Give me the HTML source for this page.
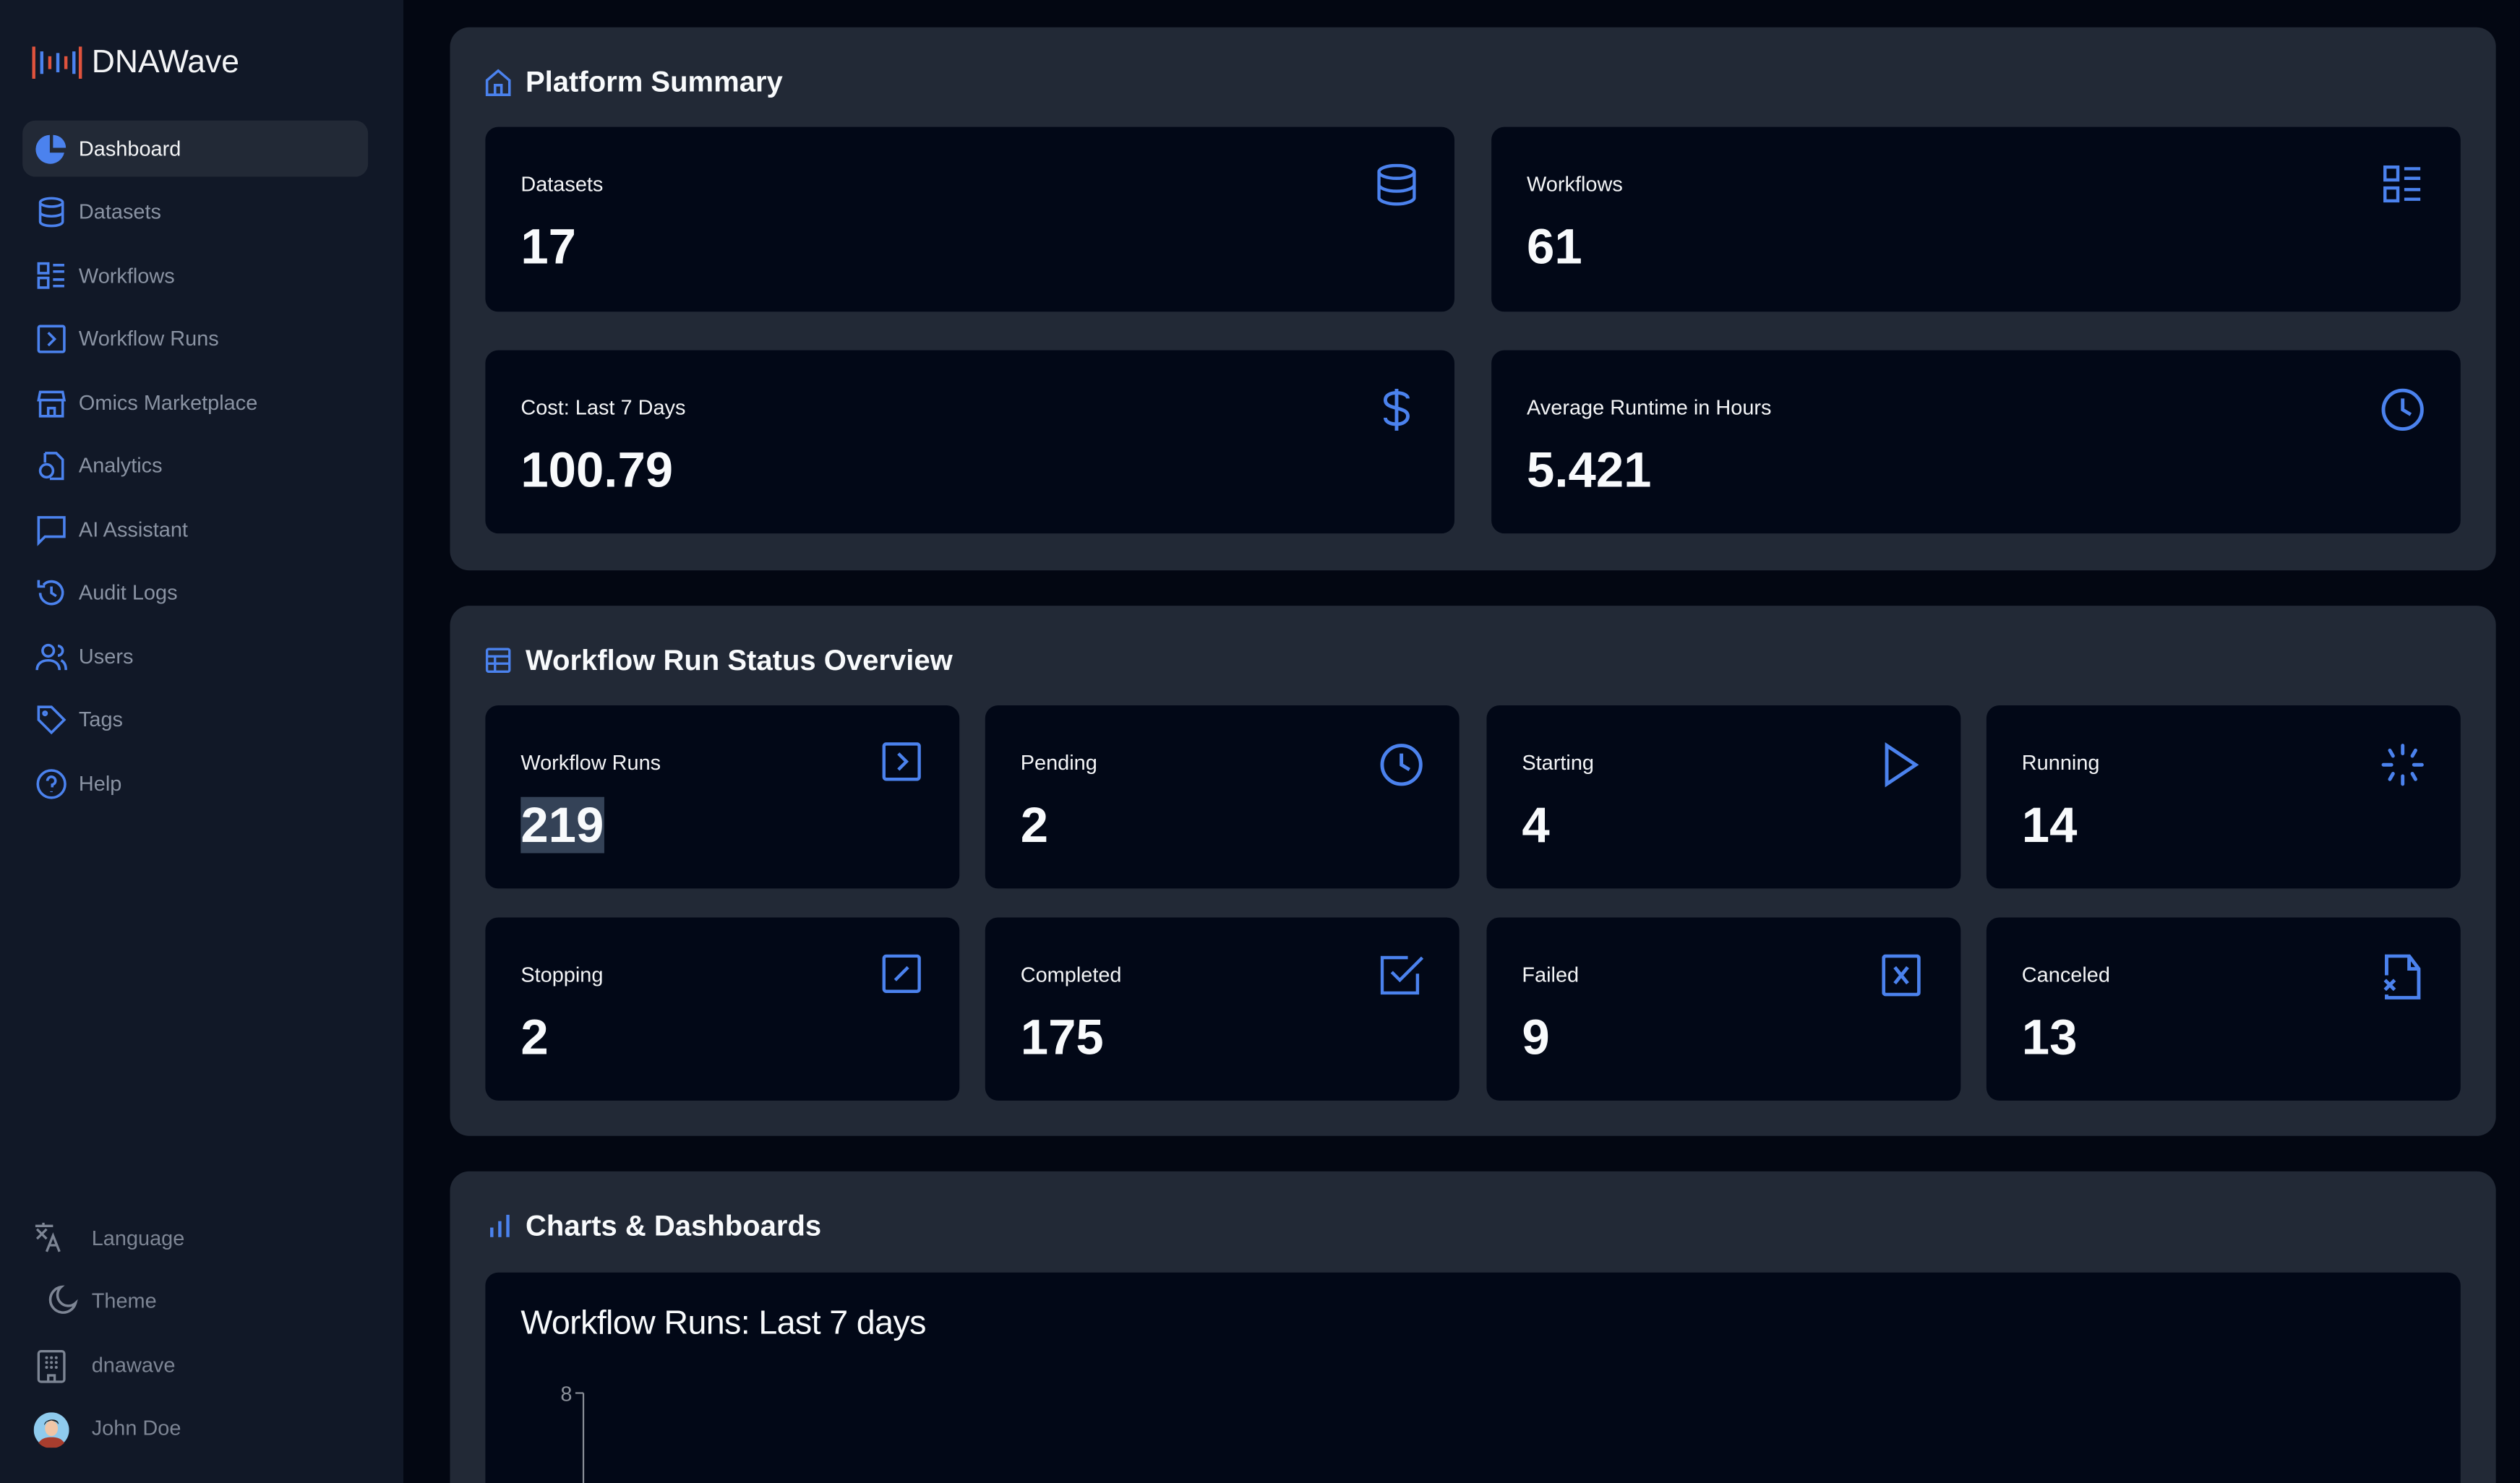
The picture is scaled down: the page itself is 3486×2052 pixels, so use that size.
<!DOCTYPE html>
<html><head><meta charset="utf-8">
<style>
html,body{margin:0;padding:0;width:3486px;height:2052px;overflow:hidden;background:#030712;}
#root{position:absolute;left:0;top:0;width:1568px;height:923px;transform:scale(2.22321);transform-origin:0 0;font-family:"Liberation Sans",sans-serif;overflow:hidden;background:#030712;}
.abs{position:absolute;}
#side{left:0;top:0;width:251px;height:923px;background:#111827;}
.nav{position:absolute;left:14px;width:215px;height:35px;border-radius:8px;}
.nav svg{position:absolute;left:8px;top:8px;}
.nav span{position:absolute;left:35px;top:10px;font-size:13px;color:#8a93a3;}
.nav.act{background:#222936;}
.nav.act span{color:#f3f4f6;}
.bot{position:absolute;left:20px;width:200px;height:30px;}
.bot span{position:absolute;left:37px;top:7px;font-size:13px;color:#7d8594;}
.sec{position:absolute;left:280px;width:1273px;background:#222936;border-radius:12px;}
.stitle{position:absolute;left:47px;font-size:18px;font-weight:bold;color:#f8fafc;}
.card{position:absolute;background:#020817;border-radius:8px;}
.card .lb{position:absolute;left:22px;top:28px;font-size:13px;color:#f3f4f6;}
.card .vl{position:absolute;left:22px;top:57px;font-size:31px;font-weight:bold;color:#f8fafc;}
.card svg{position:absolute;top:23px;}
</style></head><body>
<div id="root">
<div id="side" class="abs">
  <div class="abs" style="left:20px;top:28px">
    <svg width="32" height="22" viewBox="0 0 32 22"><rect x="0" y="1" width="2" height="20" fill="#e0533d"/><rect x="5" y="4" width="2" height="14" fill="#4b82ee"/><rect x="10" y="7" width="2" height="8" fill="#e0533d"/><rect x="15" y="5" width="2" height="12" fill="#4b82ee"/><rect x="20" y="7" width="2" height="8" fill="#e0533d"/><rect x="25" y="4" width="2" height="14" fill="#4b82ee"/><rect x="29" y="1" width="2" height="20" fill="#e0533d"/></svg>
    <span class="abs" style="left:37px;top:0px;font-size:20px;color:#f3f4f6;white-space:nowrap">DNAWave</span>
  </div>
  <div class="nav act" style="top:75px"><svg width="20" height="20" viewBox="0 0 20 20"><path d="M9 1 A9 9 0 1 0 18 12 L9 12 Z" fill="#4b82ee"/><path d="M11 1 A8 8 0 0 1 19 9 L11 9 Z" fill="#4b82ee"/></svg><span>Dashboard</span></div>
  <div class="nav" style="top:114px"><svg width="20" height="20" viewBox="0 0 20 20" fill="none" stroke="#4b82ee" stroke-width="1.6"><ellipse cx="10" cy="4" rx="7" ry="2.6"/><path d="M3 4v12c0 1.5 3 2.6 7 2.6s7-1.1 7-2.6V4M3 10c0 1.5 3 2.6 7 2.6s7-1.1 7-2.6"/></svg><span>Datasets</span></div>
  <div class="nav" style="top:154px"><svg width="20" height="20" viewBox="0 0 20 20" fill="none" stroke="#4b82ee" stroke-width="1.6"><rect x="2" y="2" width="6" height="6"/><rect x="2" y="11" width="6" height="6"/><path d="M11 3h7M11 7h7M11 12h7M11 16h7"/></svg><span>Workflows</span></div>
  <div class="nav" style="top:193px"><svg width="20" height="20" viewBox="0 0 20 20" fill="none" stroke="#4b82ee" stroke-width="1.6"><rect x="2" y="2" width="16" height="16" rx="1"/><path d="M8 6l4 4-4 4"/></svg><span>Workflow Runs</span></div>
  <div class="nav" style="top:233px"><svg width="20" height="20" viewBox="0 0 20 20" fill="none" stroke="#4b82ee" stroke-width="1.6"><path d="M3 3h14l1 5H2zM3 8v10h14V8M8 18v-5h4v5"/></svg><span>Omics Marketplace</span></div>
  <div class="nav" style="top:272px"><svg width="20" height="20" viewBox="0 0 20 20" fill="none" stroke="#4b82ee" stroke-width="1.6"><path d="M6 2h7l4 4v12H9M6 2v6"/><circle cx="7" cy="13" r="4"/></svg><span>Analytics</span></div>
  <div class="nav" style="top:312px"><svg width="20" height="20" viewBox="0 0 20 20" fill="none" stroke="#4b82ee" stroke-width="1.6"><path d="M2 2h16v12H6l-4 4z"/></svg><span>AI Assistant</span></div>
  <div class="nav" style="top:351px"><svg width="20" height="20" viewBox="0 0 20 20" fill="none" stroke="#4b82ee" stroke-width="1.6"><path d="M3 10a7 7 0 1 0 2-5M2 2v4h4M10 6v4l3 2"/></svg><span>Audit Logs</span></div>
  <div class="nav" style="top:391px"><svg width="20" height="20" viewBox="0 0 20 20" fill="none" stroke="#4b82ee" stroke-width="1.6"><circle cx="8" cy="6" r="3.5"/><path d="M1 18c0-4 3-6 7-6s7 2 7 6M14 3a3 3 0 0 1 0 6M16 12c2 1 3 3 3 6"/></svg><span>Users</span></div>
  <div class="nav" style="top:430px"><svg width="20" height="20" viewBox="0 0 20 20" fill="none" stroke="#4b82ee" stroke-width="1.6"><path d="M2 2h8l8 8-8 8-8-8z"/><circle cx="6" cy="6" r="1"/></svg><span>Tags</span></div>
  <div class="nav" style="top:470px"><svg width="20" height="20" viewBox="0 0 20 20" fill="none" stroke="#4b82ee" stroke-width="1.6"><circle cx="10" cy="10" r="8.5"/><path d="M7.5 8a2.5 2.5 0 1 1 3 2.4V12M10 14.5v.5"/></svg><span>Help</span></div>

  <div class="bot" style="top:756px"><svg class="abs" style="left:1px;top:3px" width="22" height="22" viewBox="0 0 22 22" fill="none" stroke="#7d8594" stroke-width="1.5"><path d="M1 4h11M6 2v2M2 6l6 6M8 6l-6 6M8 20l4-10 4 10M9.5 16h5"/></svg><span>Language</span></div>
  <div class="bot" style="top:795px"><svg class="abs" style="left:9px;top:5px" width="20" height="20" viewBox="0 0 20 20" fill="none" stroke="#7d8594" stroke-width="1.6"><path d="M9 1a8 8 0 1 0 9 10A6 6 0 0 1 9 1z"/></svg><span>Theme</span></div>
  <div class="bot" style="top:835px"><svg class="abs" style="left:3px;top:5px" width="18" height="21" viewBox="0 0 18 21" fill="none" stroke="#7d8594" stroke-width="1.5"><rect x="1" y="1" width="16" height="19" rx="1.5"/><path d="M7 20v-4h4v4"/><g fill="#7d8594" stroke="none"><circle cx="6" cy="5" r=".9"/><circle cx="9" cy="5" r=".9"/><circle cx="12" cy="5" r=".9"/><circle cx="6" cy="8" r=".9"/><circle cx="9" cy="8" r=".9"/><circle cx="12" cy="8" r=".9"/><circle cx="6" cy="11" r=".9"/><circle cx="9" cy="11" r=".9"/><circle cx="12" cy="11" r=".9"/></g></svg><span>dnawave</span></div>
  <div class="bot" style="top:874px"><svg class="abs" style="left:1px;top:5px" width="22" height="22" viewBox="0 0 22 22"><circle cx="11" cy="11" r="11" fill="#8fcbee"/><path d="M3 19c2-3 5-3.5 8-3.5s6 .5 8 3.5a11 11 0 0 1-16 0z" fill="#a83d2e"/><ellipse cx="11" cy="10" rx="4" ry="4.8" fill="#f0c5a6"/><path d="M6.5 8c0-4 9-5 9-0.5L14 6 11 5 8 6z" fill="#222"/></svg><span>John Doe</span></div>
</div>

<div class="sec" style="top:17px;height:338px">
  <svg class="abs" style="left:22px;top:26px" width="16" height="17" viewBox="0 0 16 17" fill="none" stroke="#4b82ee" stroke-width="1.6"><path d="M1 7l7-6 7 6v9H1zM6 16v-6h4v6"/></svg>
  <div class="stitle" style="top:24px">Platform Summary</div>
</div>
<div class="card" style="left:302px;top:79px;width:603px;height:115px"><div class="lb">Datasets</div><div class="vl">17</div><svg style="left:555px" width="24" height="26" viewBox="0 0 24 26" fill="none" stroke="#4b82ee" stroke-width="2"><ellipse cx="12" cy="5" rx="11" ry="4"/><path d="M1 5v16c0 2 5 4 11 4s11-2 11-4V5M1 13c0 2 5 4 11 4s11-2 11-4"/></svg></div>
<div class="card" style="left:928px;top:79px;width:603px;height:115px"><div class="lb">Workflows</div><div class="vl">61</div><svg style="left:554px" width="26" height="26" viewBox="0 0 26 26" fill="none" stroke="#4b82ee" stroke-width="2"><rect x="2" y="2" width="8" height="8"/><rect x="2" y="15" width="8" height="8"/><path d="M14 3h10M14 9h10M14 16h10M14 22h10"/></svg></div>
<div class="card" style="left:302px;top:218px;width:603px;height:114px"><div class="lb">Cost: Last 7 Days</div><div class="vl">100.79</div><svg style="left:557px" width="20" height="28" viewBox="0 0 20 28" fill="none" stroke="#4b82ee" stroke-width="2.2"><path d="M10 1v26M17 7c0-2-3-3.5-7-3.5S3 5 3 8s3 4 7 5 7 2 7 5-3 5-7 5-7-1.5-7-4"/></svg></div>
<div class="card" style="left:928px;top:218px;width:603px;height:114px"><div class="lb">Average Runtime in Hours</div><div class="vl">5.421</div><svg style="left:553px" width="28" height="28" viewBox="0 0 28 28" fill="none" stroke="#4b82ee" stroke-width="2.2"><circle cx="14" cy="14" r="12"/><path d="M14 7v7l5 3"/></svg></div>

<div class="sec" style="top:377px;height:330px">
  <svg class="abs" style="left:22px;top:26px" width="16" height="16" viewBox="0 0 16 16" fill="none" stroke="#4b82ee" stroke-width="1.5"><rect x="1" y="1" width="14" height="14" rx="1"/><path d="M1 5.5h14M1 10h14M6 5.5V15"/></svg>
  <div class="stitle" style="top:24px">Workflow Run Status Overview</div>
</div>
<div class="card" style="left:302px;top:439px;width:295px;height:114px"><div class="lb">Workflow Runs</div><div class="vl"><span style="background:#344257">219</span></div><svg style="left:247px" width="24" height="24" viewBox="0 0 24 24" fill="none" stroke="#4b82ee" stroke-width="2"><rect x="1" y="1" width="22" height="22" rx="1.5"/><path d="M10 7l5 5-5 5"/></svg></div>
<div class="card" style="left:613px;top:439px;width:295px;height:114px"><div class="lb">Pending</div><div class="vl">2</div><svg style="left:245px" width="28" height="28" viewBox="0 0 28 28" fill="none" stroke="#4b82ee" stroke-width="2.2"><circle cx="14" cy="14" r="12"/><path d="M14 7v7l5 3"/></svg></div>
<div class="card" style="left:925px;top:439px;width:295px;height:114px"><div class="lb">Starting</div><div class="vl">4</div><svg style="left:247px" width="22" height="28" viewBox="0 0 22 28" fill="none" stroke="#4b82ee" stroke-width="2.2"><path d="M2 2l18 12L2 26z"/></svg></div>
<div class="card" style="left:1236px;top:439px;width:295px;height:114px"><div class="lb">Running</div><div class="vl">14</div><svg style="left:245px" width="28" height="28" viewBox="0 0 28 28" fill="none" stroke="#4b82ee" stroke-width="2.2" stroke-linecap="round"><path d="M14 2v5M14 21v5M2 14h5M21 14h5M6 5l2 3.5M22 5l-2 3.5M6 23l2-3.5M22 23l-2-3.5"/></svg></div>
<div class="card" style="left:302px;top:571px;width:295px;height:114px"><div class="lb">Stopping</div><div class="vl">2</div><svg style="left:247px" width="24" height="24" viewBox="0 0 24 24" fill="none" stroke="#4b82ee" stroke-width="2"><rect x="1" y="1" width="22" height="22" rx="1.5"/><path d="M8 16l8-8"/></svg></div>
<div class="card" style="left:613px;top:571px;width:295px;height:114px"><div class="lb">Completed</div><div class="vl">175</div><svg style="left:246px" width="27" height="26" viewBox="0 0 27 26" fill="none" stroke="#4b82ee" stroke-width="2"><path d="M23 12v12H1V2h16"/><path d="M7 11l5 5L26 2"/></svg></div>
<div class="card" style="left:925px;top:571px;width:295px;height:114px"><div class="lb">Failed</div><div class="vl">9</div><svg style="left:246px" width="24" height="26" viewBox="0 0 24 26" fill="none" stroke="#4b82ee" stroke-width="2.2"><rect x="1" y="1" width="22" height="24" rx="1.5"/><path d="M8 8l8 10M16 8l-8 10"/></svg></div>
<div class="card" style="left:1236px;top:571px;width:295px;height:114px"><div class="lb">Canceled</div><div class="vl">13</div><svg style="left:246px" width="26" height="28" viewBox="0 0 26 28" fill="none" stroke="#4b82ee" stroke-width="2.2"><path d="M3 13V1h14l6 8v18H3v-2M17 1v8h6M2 16l6 6M8 16l-6 6"/></svg></div>

<div class="sec" style="top:729px;height:194px;border-radius:12px 12px 0 0">
  <svg class="abs" style="left:24px;top:27px" width="14" height="14" viewBox="0 0 14 14" fill="#4b82ee"><rect x="1" y="8" width="2" height="6"/><rect x="6" y="4" width="2" height="10"/><rect x="11" y="0" width="2" height="14"/></svg>
  <div class="stitle" style="top:24px">Charts &amp; Dashboards</div>
</div>
<div class="card" style="left:302px;top:792px;width:1229px;height:131px;border-radius:8px 8px 0 0;overflow:hidden">
  <div class="abs" style="left:22px;top:20px;font-size:21px;color:#f8fafc;letter-spacing:-0.3px">Workflow Runs: Last 7 days</div>
  <svg id="chart" class="abs" style="left:0;top:0" width="1229" height="131"></svg>
</div>
</div>
<script>
const days = ["Mon","Tue","Wed","Thu","Fri","Sat","Sun"];
const runs = [3,5,2,6,4,5,1];
const yTicks = [8,6,4,2,0];
const svg = document.getElementById('chart');
const NS = 'http://www.w3.org/2000/svg';
const yMax = 8, y0 = 75, y1 = 420, xL = 61, xR = 1200;
function yScale(v){ return y1 - (v / yMax) * (y1 - y0); }
function xScale(i){ return xL + (i + 0.5) * (xR - xL) / days.length; }
const axis = document.createElementNS(NS,'line');


axis.setAttribute('x1', xL); axis.setAttribute('x2', xL);
axis.setAttribute('y1', yScale(yMax)); axis.setAttribute('y2', y1);
axis.setAttribute('stroke', '#8a8f98'); axis.setAttribute('stroke-width', '1');
svg.appendChild(axis);
yTicks.forEach(t => {
  const tk = document.createElementNS(NS,'line');
  
  
  tk.setAttribute('x1', xL - 5); tk.setAttribute('x2', xL);
  tk.setAttribute('y1', yScale(t)); tk.setAttribute('y2', yScale(t));
  tk.setAttribute('stroke', '#8a8f98');
  svg.appendChild(tk);
  const tx = document.createElementNS(NS,'text');
  
  
  tx.setAttribute('x', xL - 7); tx.setAttribute('y', yScale(t) + 5);
  tx.setAttribute('text-anchor', 'end'); tx.setAttribute('font-size', '13');
  tx.setAttribute('fill', '#8a8f98'); tx.setAttribute('font-family', 'Liberation Sans, sans-serif');
  tx.textContent = t;
  svg.appendChild(tx);
});
runs.forEach((v, i) => {
  const b = document.createElementNS(NS,'rect');
  
  
  const w = (xR - xL) / days.length * 0.6;
  b.setAttribute('x', xScale(i) - w/2); b.setAttribute('width', w);
  b.setAttribute('y', yScale(v)); b.setAttribute('height', y1 - yScale(v));
  b.setAttribute('fill', '#4b82ee');
  svg.appendChild(b);
});
</script>
</body></html>
